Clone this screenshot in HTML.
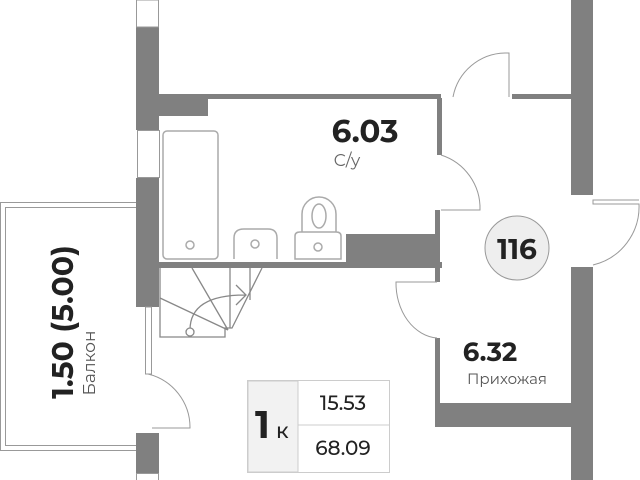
<!DOCTYPE html>
<html><head><meta charset="utf-8"><style>
html,body{margin:0;padding:0;background:#fff;}
svg{display:block;font-family:"Montserrat","Liberation Sans",sans-serif;}
</style></head><body>
<svg width="640" height="480" viewBox="0 0 640 480" xmlns="http://www.w3.org/2000/svg">
<g fill="#808080" stroke="none">
<rect x="136" y="27" width="23" height="103"/>
<rect x="136" y="178" width="23" height="129"/>
<rect x="136" y="433" width="23" height="40"/>
<rect x="159" y="94" width="49" height="22"/>
<rect x="159" y="94" width="282" height="5"/>
<rect x="437" y="98" width="5" height="57"/>
<rect x="512" y="94" width="60" height="5"/>
<rect x="159" y="262" width="283" height="6"/>
<rect x="346" y="234" width="91" height="30"/>
<rect x="435" y="210" width="5" height="72"/>
<rect x="571" y="0" width="22" height="195"/>
<rect x="571" y="267" width="22" height="213"/>
<rect x="435" y="338" width="5" height="67"/>
<rect x="435" y="403" width="137" height="24"/>
</g>
<g fill="none" stroke="#999" stroke-width="1">
<rect x="136.5" y="0" width="22" height="27"/>
<rect x="137.5" y="130.5" width="22" height="47"/>
<rect x="145.5" y="307" width="6" height="67"/>
<rect x="136.5" y="473.5" width="22" height="7"/>
<path d="M136 202.5 H0.5 V450.5 H136"/>
<path d="M136 207.5 H5.5 V445.5 H136"/>
<path d="M453 97 A54 54 0 0 1 505 53 L509 53 L509 97"/>
<path d="M441 155 A56 56 0 0 1 480 210 L441 210"/>
<path d="M639 200 L593 200 L593 204 L639 204 A60 60 0 0 1 593 265"/>
<path d="M437 282 L396 282 A44 55 0 0 0 437 338"/>
<path d="M148 374 A55 55 0 0 1 190 428 L152 428"/>
</g>
<g fill="none" stroke="#aaa" stroke-width="1.5">
<rect x="163" y="131" width="55" height="128" rx="4"/>
<circle cx="190" cy="245" r="4"/>
<path d="M234 259 V238 Q234 229 244 229 H268 Q277 229 277 238 V259"/>
<circle cx="255" cy="244" r="4"/>
<path d="M295 259 V236 Q295 232 300 232 H336 Q341 232 341 236 V259 Z"/>
<path d="M302 232 V214 A17 17 0 0 1 336 214 V232"/>
<ellipse cx="319" cy="216" rx="7" ry="12"/>
<circle cx="318" cy="247" r="4"/>
</g>
<g fill="none" stroke="#888" stroke-width="1.3">
<path d="M160 268 V337 H225 V328 H232 L262 268"/>
<path d="M192 268 L228 330 M160 298 L228 330 M230 268 V328 M250 268 V300"/>
<path d="M190 330 Q190 295 245 295 M236 285 L246 295 L236 305"/>
<circle cx="190" cy="332" r="4" fill="#fff"/>
</g>
<rect x="247.5" y="380.5" width="142" height="92" fill="#fff" stroke="#ccc"/>
<rect x="248" y="381" width="50" height="91" fill="#f2f2f2" stroke="#ccc"/>
<line x1="298" y1="425" x2="390" y2="425" stroke="#ccc"/>
<text x="255" y="438" font-size="38" font-weight="bold" fill="#222">1</text>
<text x="276" y="438" font-size="21" font-weight="500" fill="#222">к</text>
<text x="343" y="410" font-size="20" font-weight="500" text-anchor="middle" fill="#222">15.53</text>
<text x="343" y="455" font-size="20" font-weight="500" text-anchor="middle" fill="#222">68.09</text>
<text x="365" y="142" font-size="31" font-weight="bold" text-anchor="middle" fill="#222">6.03</text>
<text x="347" y="166" font-size="17" text-anchor="middle" fill="#666">С/у</text>
<text x="490" y="361" font-size="26" font-weight="bold" text-anchor="middle" fill="#222">6.32</text>
<text x="507" y="384" font-size="15" text-anchor="middle" fill="#555">Прихожая</text>
<circle cx="517" cy="248" r="32" fill="#eee" stroke="#999"/>
<text x="517" y="259" font-size="28" font-weight="bold" text-anchor="middle" fill="#222">116</text>
<text transform="translate(73 322) rotate(-90)" font-size="30" font-weight="bold" text-anchor="middle" fill="#222">1.50 (5.00)</text>
<text transform="translate(95 363) rotate(-90)" font-size="17" text-anchor="middle" fill="#555">Балкон</text>
</svg>
</body></html>
